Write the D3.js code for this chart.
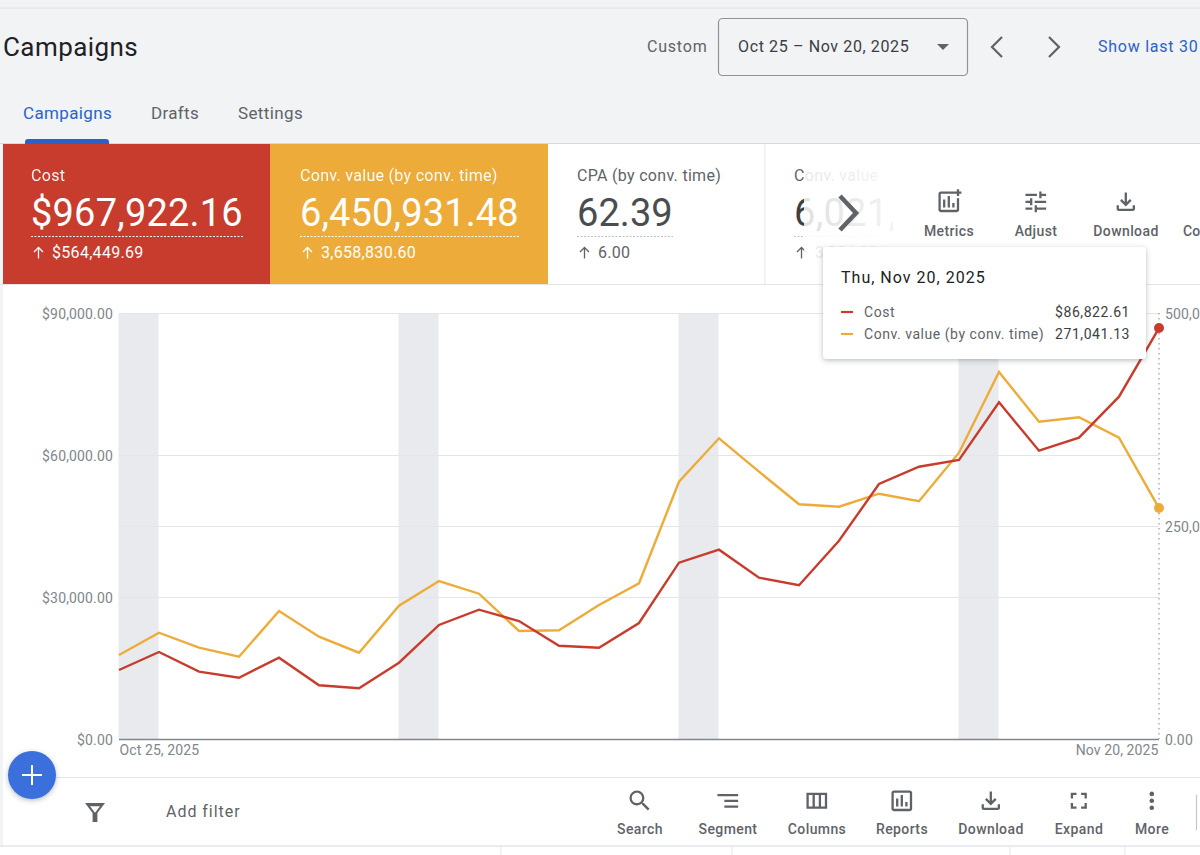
<!DOCTYPE html>
<html>
<head>
<meta charset="utf-8">
<script src="https://cdn.jsdelivr.net/npm/d3@7"></script>
<style>
html,body{margin:0;padding:0;background:#f1f3f4;overflow:hidden}
svg{display:block;font-family:Roboto,sans-serif}
text{letter-spacing:.3px}
</style>
</head>
<body>
<svg id="c" width="1200" height="855"></svg>
<script>
const days = ["Oct 25","Oct 26","Oct 27","Oct 28","Oct 29","Oct 30","Oct 31","Nov 1","Nov 2","Nov 3","Nov 4","Nov 5","Nov 6","Nov 7","Nov 8","Nov 9","Nov 10","Nov 11","Nov 12","Nov 13","Nov 14","Nov 15","Nov 16","Nov 17","Nov 18","Nov 19","Nov 20"];
const cost = [14578,18380,14218,12951,17176,11345,10711,16120,24085,27317,24930,19711,19289,24507,37247,39993,34078,32472,41895,53874,57529,58944,71134,60909,63656,72318,86822.61];
const convValue = [98591,124764,107159,96595,150234,120070,101290,156454,185445,170539,126760,127581,157276,182745,301993,352932,313730,275467,272651,287909,278988,336030,430748,372414,377579,353635,271041.13];
const weekendStarts = ["Oct 25","Nov 1","Nov 8","Nov 15"];
const costTicks = [0,30000,60000,90000];
const convTicks = [0,250000,500000];
const convTickLabels = {0:"0.00",250000:"250,0",500000:"500,0"};
const dateLabels = {"Oct 25":"Oct 25, 2025","Nov 20":"Nov 20, 2025"};
const kpiCards = [
  {x:3,w:267,l:31,len:212,fill:"#c83c2e",ink:"#fff",name:"Cost",value:"$967,922.16",delta:"$564,449.69"},
  {x:270,w:278,l:300,len:219,fill:"#edac39",ink:"#fff",name:"Conv. value (by conv. time)",value:"6,450,931.48",delta:"3,658,830.60"},
  {x:548,w:217,l:577,len:96,fill:"#fff",ink:"#4a4d50",name:"CPA (by conv. time)",value:"62.39",delta:"6.00"}
];
const tabs = [["Campaigns",23,89,"#2a62c9"],["Drafts",151,48,"#5f6368"],["Settings",238,65,"#5f6368"]];
const topTools = [["Metrics",949],["Adjust",1036],["Download",1126]];
const tableTools = [["Search",640],["Segment",728],["Columns",817],["Reports",902],["Download",991],["Expand",1079],["More",1152]];
const columnEdges = [501,732,1010,1125];

const RED="#c83c2e", AMBER="#edac39", GREY="#5f6368", AXIS="#80868b", GRID="#e3e5e8", BLUE="#2a62c9";
const ICONS = {
 Search:"M15.5 14h-.79l-.28-.27A6.471 6.471 0 0 0 16 9.5 6.5 6.5 0 1 0 9.5 16c1.61 0 3.09-.59 4.23-1.57l.27.28v.79l5 4.99L20.49 19l-4.99-5zm-6 0C7.01 14 5 11.99 5 9.5S7.01 5 9.5 5 14 7.01 14 9.5 11.99 14 9.5 14z",
 Segment:"M9 18h12v-2H9v2zM3 6v2h18V6H3zm6 7h12v-2H9v2z",
 Columns:"M3 5v14h18V5H3zm2 2h3.3v10H5V7zm5.3 0h3.4v10h-3.4V7zm5.4 0H19v10h-3.3V7z",
 Reports:"M19 3H5c-1.1 0-2 .9-2 2v14c0 1.1.9 2 2 2h14c1.1 0 2-.9 2-2V5c0-1.1-.9-2-2-2zm0 16H5V5h14v14zM7 10h2v7H7zm4-3h2v10h-2zm4 6h2v4h-2z",
 Download:"M18 15v3H6v-3H4v3c0 1.1.9 2 2 2h12c1.1 0 2-.9 2-2v-3h-2zm-1-4l-1.41-1.41L13 12.17V4h-2v8.17L8.41 9.59 7 11l5 5 5-5z",
 Expand:"M7 14H5v5h5v-2H7v-3zm-2-4h2V7h3V5H5v5zm12 7h-3v2h5v-5h-2v3zM14 5v2h3v3h2V5h-5z",
 More:"M12 8c1.1 0 2-.9 2-2s-.9-2-2-2-2 .9-2 2 .9 2 2 2zm0 2c-1.1 0-2 .9-2 2s.9 2 2 2 2-.9 2-2-.9-2-2-2zm0 6c-1.1 0-2 .9-2 2s.9 2 2 2 2-.9 2-2-.9-2-2-2z",
 Metrics:"M17 3H5c-1.1 0-2 .9-2 2v14c0 1.1.9 2 2 2h14c1.1 0 2-.9 2-2V9h-2v10H5V5h12V3zM7 10h2v7H7zm4-3h2v10h-2zm4 6h2v4h-2zM19 1v2h-2v2h2v2h2V5h2V3h-2V1z",
 Adjust:"M3 17v2h6v-2H3zM3 5v2h10V5H3zm10 16v-2h8v-2h-8v-2h-2v6h2zM7 9v2H3v2h4v2h2V9H7zm14 4v-2H11v2h10zm-6-4h2V7h4V5h-4V3h-2v6z"
};

const svg = d3.select("#c");
const defs = svg.append("defs");
const shadow = defs.append("filter").attr("id","sh").attr("x","-20%").attr("y","-20%").attr("width","140%").attr("height","150%");
shadow.append("feDropShadow").attr("dx",0).attr("dy",1.5).attr("stdDeviation",2.5).attr("flood-color","#3c4043").attr("flood-opacity",.35);
const fade = defs.append("linearGradient").attr("id","fade");
fade.append("stop").attr("offset",0).attr("stop-color","#fff").attr("stop-opacity",.84);
fade.append("stop").attr("offset",1).attr("stop-color","#fff").attr("stop-opacity",.94);

const txt = (s,x,y,size,fill,anchor="start",extra={})=>{
  const t = svg.append("text").attr("x",x).attr("y",y).attr("font-size",size).attr("fill",fill).attr("text-anchor",anchor).text(s);
  Object.entries(extra).forEach(([k,v])=>t.attr(k,v));
  return t;
};
const hline=(x1,x2,y,c="#dadce0",w=1)=>svg.append("line").attr("x1",x1).attr("x2",x2).attr("y1",y).attr("y2",y).attr("stroke",c).attr("stroke-width",w);
const upArrow=(cx,c)=>svg.append("path").attr("d",`M${cx} 258.5v-11M${cx-4.5} 252l4.5-4.5 4.5 4.5`).attr("fill","none").attr("stroke",c).attr("stroke-width",1.3);

/* page chrome */
hline(0,1200,8,"#e0e2e5");
svg.append("rect").attr("x",3).attr("y",144).attr("width",1197).attr("height",702).attr("fill","#fff");
hline(0,1200,143.5,"#d5d7da");

txt("Campaigns",3,56,26,"#202124","start",{"textLength":135,"lengthAdjust":"spacing"});
txt("Custom",647,52,16,GREY,"start",{"textLength":60});
svg.append("rect").attr("x",718.5).attr("y",18.5).attr("width",249).attr("height",57).attr("rx",4).attr("fill","none").attr("stroke","#8f9296").attr("stroke-width",1.2);
txt("Oct 25 – Nov 20, 2025",738,52,16,"#3c4043","start",{"textLength":171});
svg.append("path").attr("d","M937 44h12l-6 6z").attr("fill",GREY);
svg.append("path").attr("d","M1002 37l-10 10 10 10").attr("fill","none").attr("stroke",GREY).attr("stroke-width",2.2);
svg.append("path").attr("d","M1049 37l10 10-10 10").attr("fill","none").attr("stroke",GREY).attr("stroke-width",2.2);
txt("Show last 30",1098,52,16,BLUE,"start",{"textLength":100});
tabs.forEach(([s,x,w,c])=>txt(s,x,119,17,c,"start",{"textLength":w}));
svg.append("path").attr("d","M25 144v-2a3 3 0 0 1 3-3h78a3 3 0 0 1 3 3v2z").attr("fill",BLUE);

/* KPI cards */
kpiCards.forEach(k=>{
  svg.append("rect").attr("x",k.x).attr("y",144).attr("width",k.w).attr("height",140).attr("fill",k.fill);
  const dark=k.fill==="#fff";
  txt(k.name,k.l,181,16,dark?"#5f6368":k.ink,"start",{"opacity":dark?1:.95});
  txt(k.value,k.l,226,38,k.ink,"start",{"textLength":k.len});
  svg.append("line").attr("x1",k.l).attr("x2",k.l+k.len).attr("y1",236.5).attr("y2",236.5).attr("stroke",dark?"#bdc1c6":"#fff").attr("stroke-dasharray","2 1.5");
  upArrow(k.l+7.5,dark?"#5f6368":k.ink);
  txt(k.delta,k.l+21,258,16,dark?"#5f6368":k.ink);
});
svg.append("line").attr("x1",765).attr("x2",765).attr("y1",144).attr("y2",284).attr("stroke","#e3e5e8");
txt("Conv. value",794,181,16,"#5f6368");
txt("6,021,",794,226,38,"#3c4043");
svg.append("line").attr("x1",794).attr("x2",890).attr("y1",236.5).attr("y2",236.5).attr("stroke","#bdc1c6").attr("stroke-dasharray","2 1.5");
upArrow(801.5,GREY);
txt("3,021,881",815,258,16,GREY);
svg.append("rect").attr("x",804).attr("y",160).attr("width",92).attr("height",105).attr("fill","url(#fade)");
svg.append("rect").attr("x",893).attr("y",145).attr("width",307).attr("height",138).attr("fill","#fff");
svg.append("path").attr("d","M840 196l16 17-16 17").attr("fill","none").attr("stroke",GREY).attr("stroke-width",4.5);
topTools.forEach(([s,x])=>{
  svg.append("path").attr("d",ICONS[s]).attr("transform",`translate(${x-14},${188}) scale(1.15)`).attr("fill",GREY);
  txt(s,x,235.5,14,GREY,"middle",{"font-weight":500,"style":"letter-spacing:.4px"});
});
txt("Co",1183,235.5,14,GREY,"start",{"font-weight":500,"style":"letter-spacing:0"});
hline(0,1200,284.5,"#e3e5e8");

/* chart */
const x = d3.scalePoint().domain(days).range([119,1159]);
const yCost = d3.scaleLinear().domain([0,90000]).range([739,313]);
const yConv = d3.scaleLinear().domain([0,500000]).range([739,313]);
const step = x.step();

svg.append("g").selectAll("rect").data(weekendStarts).join("rect")
  .attr("x",d=>x(d)-.5).attr("y",yCost(90000)).attr("width",step).attr("height",yCost(0)-yCost(90000)).attr("fill","#e8eaed");

const gridY=[...costTicks.filter(t=>t>0).map(yCost),yConv(250000)];
svg.append("g").selectAll("line").data(gridY).join("line")
  .attr("x1",x.range()[0]).attr("x2",x.range()[1]).attr("y1",d=>d+.5).attr("y2",d=>d+.5).attr("stroke",GRID).attr("stroke-width",1);

const styleAxis=g=>{g.select(".domain").remove();g.selectAll("line").remove();g.selectAll("text").attr("font-size",14).attr("font-family","Roboto,sans-serif").attr("fill",AXIS).attr("style","letter-spacing:.15px");};
svg.append("g").attr("transform","translate(119,.7)")
  .call(d3.axisLeft(yCost).tickValues(costTicks).tickSize(0).tickPadding(6).tickFormat(d3.format("$,.2f"))).call(styleAxis);
svg.append("g").attr("transform","translate(1159,.7)")
  .call(d3.axisRight(yConv).tickValues(convTicks).tickSize(0).tickPadding(6).tickFormat(d=>convTickLabels[d])).call(styleAxis);
const xAxis=svg.append("g").attr("transform","translate(0,739)")
  .call(d3.axisBottom(x).tickValues(Object.keys(dateLabels)).tickSize(0).tickPadding(6).tickFormat(d=>dateLabels[d])).call(styleAxis);
xAxis.selectAll("text").attr("text-anchor",d=>d===days[0]?"start":"end").attr("dx",d=>d===days[0]?0:-1).attr("style","letter-spacing:.1px");
hline(119,1159,739.5,"#80868b",1.4);

const line=(y,vals)=>d3.line().x((d,i)=>x(days[i])).y(d=>y(d))(vals);
svg.append("line").attr("x1",1159).attr("x2",1159).attr("y1",313).attr("y2",739).attr("stroke","#80868b").attr("stroke-dasharray","1.5 3.5");
svg.append("path").attr("d",line(yConv,convValue)).attr("fill","none").attr("stroke",AMBER).attr("stroke-width",2.4);
svg.append("path").attr("d",line(yCost,cost)).attr("fill","none").attr("stroke",RED).attr("stroke-width",2.4);
svg.append("circle").attr("cx",x(days[26])).attr("cy",yCost(cost[26])).attr("r",5).attr("fill",RED);
svg.append("circle").attr("cx",x(days[26])).attr("cy",yConv(convValue[26])).attr("r",5).attr("fill",AMBER);

/* tooltip */
svg.append("rect").attr("x",823).attr("y",247).attr("width",323).attr("height",112).attr("rx",4).attr("fill","#fff").attr("filter","url(#sh)");
txt("Thu, Nov 20, 2025",841,283,16,"#202124","start",{"textLength":144});
[["Cost",24,"$86,822.61",RED,317],["Conv. value (by conv. time)",180,"271,041.13",AMBER,339]].forEach(([n,w,v,c,y])=>{
  svg.append("line").attr("x1",841).attr("x2",853).attr("y1",y-5).attr("y2",y-5).attr("stroke",c).attr("stroke-width",2.2);
  txt(n,864,y,14,GREY,"start",{"textLength":n==="Cost"?31:180});
  txt(v,1130,y,14,"#3c4043","end",{"style":"letter-spacing:.55px"});
});

/* bottom toolbar */
hline(8,1200,777.5,"#e3e5e8");
hline(0,1200,846,"#e3e5e8",1.5);
svg.append("rect").attr("x",0).attr("y",846.8).attr("width",1200).attr("height",9).attr("fill","#fff");
svg.append("g").selectAll("line").data(columnEdges).join("line")
  .attr("x1",d=>d).attr("x2",d=>d).attr("y1",847).attr("y2",855).attr("stroke","#e3e5e8");
svg.append("path").attr("d","M85 803h20l-7.6 10v9h-4.8v-9zM90 806.2l5 6.5 5-6.5z").attr("fill",GREY).attr("fill-rule","evenodd");
txt("Add filter",166,817,16,GREY,"start",{"textLength":74});
tableTools.forEach(([s,x])=>{
  svg.append("path").attr("d",ICONS[s]).attr("transform",`translate(${x-14},${787}) scale(1.15)`).attr("fill",GREY);
  txt(s,x,834,14,GREY,"middle",{"font-weight":500,"style":"letter-spacing:.4px"});
});
svg.append("line").attr("x1",1196.5).attr("x2",1196.5).attr("y1",795).attr("y2",830).attr("stroke","#c4c6c9").attr("stroke-width",1.2);
svg.append("circle").attr("cx",32).attr("cy",775).attr("r",24).attr("fill","#3a70dc").attr("filter","url(#sh)");
svg.append("path").attr("d","M32 765v20M22 775h20").attr("stroke","#fff").attr("stroke-width",2);
</script>
</body>
</html>
